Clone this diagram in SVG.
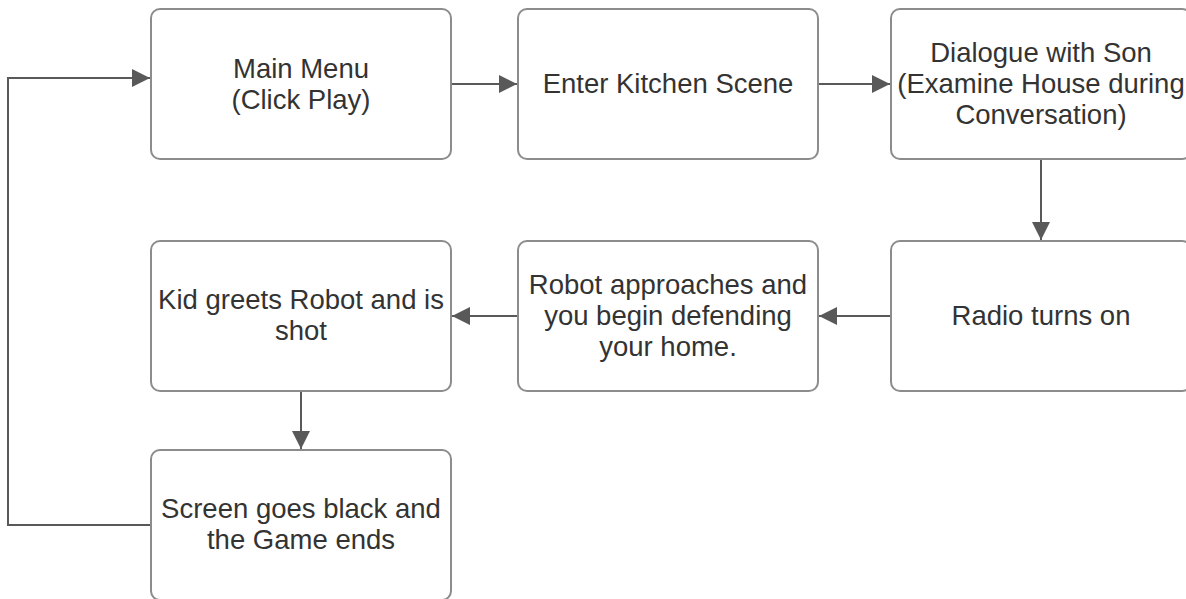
<svg xmlns="http://www.w3.org/2000/svg" width="1186" height="599" viewBox="0 0 1186 599">
<defs>
<style>
.box{fill:#fff;stroke:#8c8c8c;stroke-width:2}
.lbl{font-family:Arial,"Liberation Sans",Helvetica,sans-serif;font-size:27.5px;fill:#333;text-anchor:middle}
.edge{fill:none;stroke:#595959;stroke-width:2}
</style>
<marker id="ah" viewBox="0 0 18 18" refX="18" refY="9" markerWidth="18" markerHeight="18" markerUnits="userSpaceOnUse" orient="auto">
<path d="M0,0 L18,9 L0,18 Z" fill="#595959"/>
</marker>
</defs>
<rect width="1186" height="599" fill="#fff"/>
<g id="connectors">
<path class="edge" d="M451,84 H517" marker-end="url(#ah)"/>
<path class="edge" d="M818,84 H890" marker-end="url(#ah)"/>
<path class="edge" d="M1041,159 V240" marker-end="url(#ah)"/>
<path class="edge" d="M891,316 H819" marker-end="url(#ah)"/>
<path class="edge" d="M518,316 H452" marker-end="url(#ah)"/>
<path class="edge" d="M301,391 V449" marker-end="url(#ah)"/>
<path class="edge" d="M151,525 H8 V78 H150" marker-end="url(#ah)"/>
</g>
<g id="n1"><rect class="box" x="151" y="9" width="300" height="150" rx="9"/>
<text class="lbl" x="301" y="78" font-family="Liberation Sans">Main Menu</text><text class="lbl" x="301" y="109">(Click Play)</text></g>
<g id="n2"><rect class="box" x="518" y="9" width="300" height="150" rx="9"/>
<text class="lbl" x="668" y="93">Enter Kitchen Scene</text></g>
<g id="n3"><rect class="box" x="891" y="9" width="300" height="150" rx="9"/>
<text class="lbl" x="1041" y="62">Dialogue with Son</text><text class="lbl" x="1041" y="93">(Examine House during</text><text class="lbl" x="1041" y="124">Conversation)</text></g>
<g id="n4"><rect class="box" x="891" y="241" width="300" height="150" rx="9"/>
<text class="lbl" x="1041" y="325">Radio turns on</text></g>
<g id="n5"><rect class="box" x="518" y="241" width="300" height="150" rx="9"/>
<text class="lbl" x="668" y="294">Robot approaches and</text><text class="lbl" x="668" y="325">you begin defending</text><text class="lbl" x="668" y="356">your home.</text></g>
<g id="n6"><rect class="box" x="151" y="241" width="300" height="150" rx="9"/>
<text class="lbl" x="301" y="309">Kid greets Robot and is</text><text class="lbl" x="301" y="340">shot</text></g>
<g id="n7"><rect class="box" x="151" y="450" width="300" height="150" rx="9"/>
<text class="lbl" x="301" y="518">Screen goes black and</text><text class="lbl" x="301" y="549">the Game ends</text></g>
</svg>
